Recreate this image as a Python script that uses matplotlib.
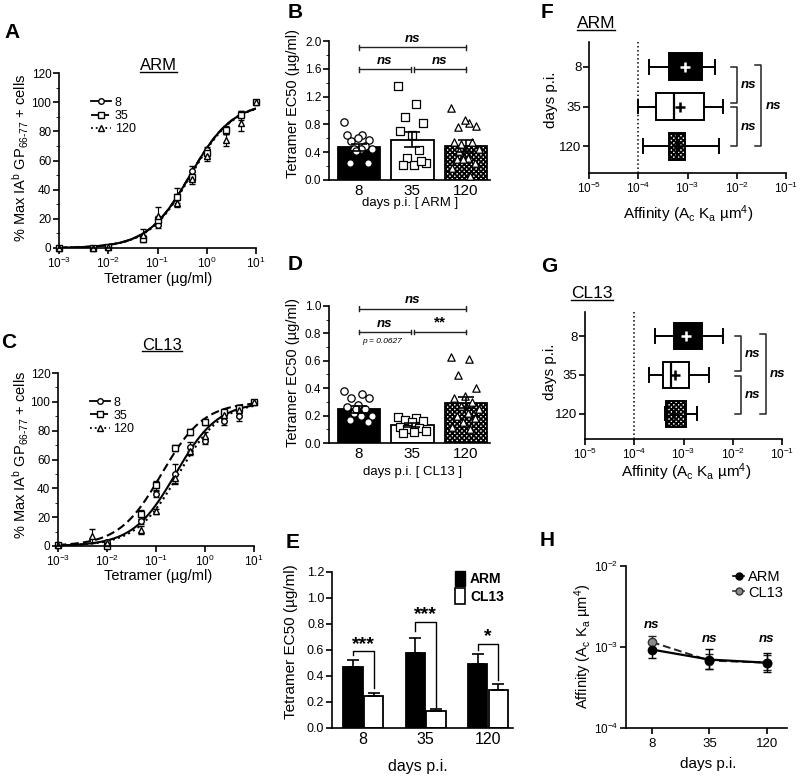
"""Tetramer binding / EC50 / 2D affinity panels (A-H)."""
import numpy as np
import matplotlib
matplotlib.use("Agg")
import matplotlib.pyplot as plt
from matplotlib.lines import Line2D
from matplotlib.patches import Patch
from matplotlib.ticker import MultipleLocator, NullLocator, FixedLocator

plt.rcParams['font.family'] = ['Liberation Sans', 'DejaVu Sans']
plt.rcParams['mathtext.fontset'] = 'custom'
plt.rcParams['mathtext.rm'] = 'Liberation Sans'
plt.rcParams['mathtext.it'] = 'Liberation Sans:italic'
plt.rcParams['mathtext.bf'] = 'Liberation Sans:bold'
plt.rcParams['hatch.linewidth'] = 1.3
plt.rcParams['axes.linewidth'] = 1.2
plt.rcParams['xtick.major.width'] = 1.2
plt.rcParams['ytick.major.width'] = 1.2
plt.rcParams['xtick.major.size'] = 4
plt.rcParams['ytick.major.size'] = 4
plt.rcParams['xtick.minor.size'] = 2
plt.rcParams['ytick.minor.size'] = 2
plt.rcParams['xtick.major.pad'] = 1.5
plt.rcParams['ytick.major.pad'] = 1.5

# ---------------- data ----------------
conc = [0.001, 0.005, 0.01, 0.05, 0.1, 0.25, 0.5, 1.0, 2.5, 5.0, 10.0]
days = ["8", "35", "120"]
nan = np.nan

# A: % max IAb GP66-77+ cells, ARM
arm8_pct = [0, 0, 1, 7, 16, 34, 53, 67, 80, 92, 100]
arm8_err = [0.5, 0.5, 1, 2, 2, 3, 3, 2, 2, 2, 0]
arm35_pct = [0, 0, 1, 6, 19, 35, 49, 65, 81, 91, 100]
arm35_err = [0.5, 0.5, 1, 2, 3, 6, 3, 3, 3, 3, 0]
arm120_pct = [0, 0, 1, 9, 22, 31, 47, 63, 74, 86, 100]
arm120_err = [0.5, 0.5, 1, 4, 6, 3, 3, 3, 4, 6, 0]
arm_fit_ec50 = [0.46, 0.46, 0.48]

# C: CL13
cl8_pct = [1, nan, 3, 17, 36, 50, 69, 73, 87, 90, 100]
cl8_err = [1, 0, 1, 2, 2, 7, 3, 2, 3, 3, 0]
cl35_pct = [1, nan, 0, 22, 42, 68, 79, 86, 93, 96, 100]
cl35_err = [1, 0, 1, 3, 3, 2, 2, 2, 1, 2, 0]
cl120_pct = [1, 7, 2, 11, 24, 47, 66, 76, 91, 94, 100]
cl120_err = [1, 5, 1, 3, 2, 3, 3, 3, 4, 3, 0]
cl_fit_ec50 = [0.25, 0.13, 0.29]

# B: EC50 ARM (ug/ml)
arm_ec50_mean = [0.47, 0.58, 0.49]
arm_ec50_sem = [0.05, 0.11, 0.08]
arm_ec50_d8 = [0.83, 0.65, 0.56, 0.58, 0.60, 0.65, 0.49, 0.45, 0.45, 0.45, 0.24, 0.24, 0.42]
arm_ec50_d35 = [1.35, 1.09, 0.91, 0.82, 0.65, 0.70, 0.43, 0.31, 0.25, 0.21, 0.21, 0.28]
arm_ec50_d120 = [1.03, 0.82, 0.76, 0.78, 0.86, 0.55, 0.55, 0.52, 0.45, 0.31,
                 0.30, 0.24, 0.30, 0.17, 0.06, 0.42]

# D: EC50 CL13
cl_ec50_mean = [0.245, 0.13, 0.295]
cl_ec50_sem = [0.025, 0.015, 0.04]
cl_ec50_d8 = [0.38, 0.36, 0.33, 0.33, 0.28, 0.26, 0.25, 0.22, 0.20, 0.20, 0.17, 0.15, 0.25]
cl_ec50_d35 = [0.19, 0.18, 0.17, 0.16, 0.15, 0.12, 0.11, 0.10, 0.09, 0.08, 0.07]
cl_ec50_d120 = [0.63, 0.61, 0.50, 0.40, 0.34, 0.33, 0.30, 0.27, 0.25, 0.22,
                0.20, 0.18, 0.15, 0.12, 0.10]

# E: significance
e_sig = ["***", "***", "*"]
e_sig_y = [0.59, 0.815, 0.65]
e_left_y = [0.565, 0.75, 0.60]
e_right_y = [0.31, 0.16, 0.37]

# F: 2D affinity ARM (box stats)
arm_lo = [1.66e-4, 1.0e-4, 1.26e-4]
arm_q1 = [4.27e-4, 2.29e-4, 4.17e-4]
arm_med = [9.0e-4, 5.37e-4, 6.0e-4]
arm_q3 = [2.0e-3, 2.14e-3, 8.7e-4]
arm_hi = [3.55e-3, 5.37e-3, 4.27e-3]
arm_mean = [8.9e-4, 7.08e-4, 6.3e-4]

# G: 2D affinity CL13
cl_lo = [2.63e-4, 2.04e-4, 4.2e-4]
cl_q1 = [6.3e-4, 3.8e-4, 4.4e-4]
cl_med = [1.1e-3, 5.6e-4, 4.6e-4]
cl_q3 = [2.34e-3, 1.32e-3, 1.12e-3]
cl_hi = [6.3e-3, 3.3e-3, 1.86e-3]
cl_mean = [1.15e-3, 6.8e-4, 6.3e-4]

# H: mean affinity with error
arm_aff = [9.3e-4, 7.0e-4, 6.4e-4]
arm_aff_lo = [7.4e-4, 5.4e-4, 4.9e-4]
arm_aff_hi = [1.2e-3, 9.5e-4, 8.5e-4]
cl_aff = [1.15e-3, 6.8e-4, 6.4e-4]
cl_aff_lo = [9.8e-4, 5.4e-4, 5.2e-4]
cl_aff_hi = [1.35e-3, 8.3e-4, 8.0e-4]
h_ns_y = [1.85e-3, 1.26e-3, 1.26e-3]

# ---------------- layout helpers ----------------
W, H = 800, 776
fig = plt.figure(figsize=(8, 7.76), dpi=100)


def px_axes(l, t, r, b):
    ax = fig.add_axes([l / W, 1 - b / H, (r - l) / W, (b - t) / H])
    ax.spines[['top', 'right']].set_visible(False)
    return ax


def ftext(x, y, s, **kw):
    return fig.text(x / W, 1 - y / H, s, **kw)


underlined = []


def title_u(x, y, s, size=12):
    underlined.append(ftext(x, y, s, ha='center', va='center', fontsize=size))


def spread(n, width=0.55):
    k = np.arange(n)
    return ((k * 0.618) % 1 - 0.5) * width


NS = dict(fontsize=9.5, fontweight='bold', fontstyle='italic')
AFF = "Affinity (A$_{\\mathregular{c}}$ K$_{\\mathregular{a}}$ \u00b5m$^{\\mathregular{4}}$)"
YPCT = "% Max IA$^{\\mathregular{b}}$ GP$_{\\text{66-77}}$ + cells"


# ---------------- A / C: binding curves ----------------
def binding_panel(ax, series, fits):
    markers = ['o', 's', '^']
    styles = ['-', (0, (4, 2)), ':']
    xs = np.logspace(-3, 1, 300)
    for (pct, err), ec50, m, ls in zip(series, fits, markers, styles):
        ax.plot(xs, 100 * xs / (ec50 + xs), color='black', ls=ls, lw=1.5)
        ax.errorbar(conc, pct, yerr=err, fmt=m, ms=4, mfc='white', mec='black',
                    mew=1, ecolor='black', elinewidth=0.8, capsize=2, clip_on=False)
    ax.set_xscale('log')
    ax.set_xlim(1e-3, 10)
    ax.set_ylim(0, 120)
    ax.yaxis.set_major_locator(MultipleLocator(20))
    ax.yaxis.set_minor_locator(MultipleLocator(10))
    ax.xaxis.set_minor_locator(NullLocator())
    ax.tick_params(labelsize=8.5)
    handles = [Line2D([], [], color='black', ls=ls, lw=1.3, marker=m, ms=4, mfc='white')
               for m, ls in zip(markers, styles)]
    ax.legend(handles, days, loc='upper left', bbox_to_anchor=(0.13, 0.9), frameon=False,
              fontsize=9, handlelength=1.6, handletextpad=0.3, labelspacing=0.1,
              borderpad=0)


axA = px_axes(59, 73, 256, 248)
binding_panel(axA, [(arm8_pct, arm8_err), (arm35_pct, arm35_err), (arm120_pct, arm120_err)],
              arm_fit_ec50)
axC = px_axes(58, 373, 254, 546)
binding_panel(axC, [(cl8_pct, cl8_err), (cl35_pct, cl35_err), (cl120_pct, cl120_err)],
              cl_fit_ec50)
title_u(158, 65, "ARM")
title_u(162, 345, "CL13")
ftext(21, 158, YPCT, rotation=90, ha='center', va='center', fontsize=10.5)
ftext(21, 455, YPCT, rotation=90, ha='center', va='center', fontsize=10.5)
ftext(158, 279, "Tetramer (\u00b5g/ml)", ha='center', va='center', fontsize=10.5)
ftext(158, 576, "Tetramer (\u00b5g/ml)", ha='center', va='center', fontsize=10.5)


# ---------------- B / D: EC50 scatter bars ----------------
def hbar(ax, x0, x1, y, label, dy):
    ax.plot([x0, x1], [y, y], color='#222', lw=1)
    for xx in (x0, x1):
        ax.plot([xx, xx], [y - dy, y + dy], color='#222', lw=1)
    size = 11 if label.startswith('*') else 9.5
    style = 'normal' if label.startswith('*') else 'italic'
    ax.text((x0 + x1) / 2, y + dy, label, ha='center', va='bottom', fontsize=size,
            fontweight='bold', fontstyle=style)


def ec50_panel(ax, means, sems, groups, ymax):
    x = np.arange(3)
    bars = ax.bar(x, means, width=0.8, color=['black', 'white', 'white'],
                  edgecolor='black', linewidth=1.3, zorder=2)
    bars[2].set_hatch('xxxxxxx')
    for i, (pts, m) in enumerate(zip(groups, ['o', 's', '^'])):
        ax.scatter(i + spread(len(pts)), pts, marker=m, s=28, facecolor='white',
                   edgecolor='black', linewidth=0.9, zorder=3)
    ax.errorbar(x, means, yerr=sems, fmt='none', ecolor='black', elinewidth=1.2,
                capsize=6, capthick=1.2, zorder=4)
    ax.set_xlim(-0.56, 2.45)
    ax.set_ylim(0, ymax)
    ax.set_xticks(x, days)
    ax.tick_params(axis='x', labelsize=11, length=0, pad=3)
    ax.tick_params(axis='y', labelsize=8.5)


axB = px_axes(329, 41, 490, 180)
ec50_panel(axB, arm_ec50_mean, arm_ec50_sem, [arm_ec50_d8, arm_ec50_d35, arm_ec50_d120], 2.0)
axB.yaxis.set_major_locator(MultipleLocator(0.4))
axB.yaxis.set_minor_locator(MultipleLocator(0.2))
axB.yaxis.set_major_formatter(lambda v, p: f"{v:.1f}")
hbar(axB, 0, 2, 1.91, "ns", 0.035)
hbar(axB, 0, 0.97, 1.59, "ns", 0.035)
hbar(axB, 1.03, 2, 1.59, "ns", 0.035)

axD = px_axes(329, 306, 490, 443)
ec50_panel(axD, cl_ec50_mean, cl_ec50_sem, [cl_ec50_d8, cl_ec50_d35, cl_ec50_d120], 1.0)
axD.yaxis.set_major_locator(MultipleLocator(0.2))
axD.yaxis.set_minor_locator(MultipleLocator(0.1))
axD.yaxis.set_major_formatter(lambda v, p: f"{v:.1f}")
hbar(axD, 0, 2, 0.98, "ns", 0.017)
hbar(axD, 0, 0.97, 0.81, "ns", 0.017)
hbar(axD, 1.03, 2, 0.81, "**", 0.017)
axD.text(0.43, 0.74, "p = 0.0627", ha='center', va='center', fontsize=6, fontstyle='italic')

ftext(293, 103, "Tetramer EC50 (\u00b5g/ml)", rotation=90, ha='center', va='center', fontsize=10.5)
ftext(293, 372, "Tetramer EC50 (\u00b5g/ml)", rotation=90, ha='center', va='center', fontsize=10.5)
ftext(410, 203, "days p.i. [ ARM ]", ha='center', va='center', fontsize=9.5)
ftext(413, 472, "days p.i. [ CL13 ]", ha='center', va='center', fontsize=9.5)

# ---------------- E: grouped bars ----------------
axE = px_axes(332, 572, 513, 728)
xe = np.arange(3)
off = 0.165
wd = 0.31
axE.bar(xe - off, arm_ec50_mean, width=wd, color='black', edgecolor='black', lw=1.3)
axE.bar(xe + off, cl_ec50_mean, width=wd, color='white', edgecolor='black', lw=1.3)
axE.errorbar(xe - off, arm_ec50_mean, yerr=[[0] * 3, arm_ec50_sem], fmt='none',
             ecolor='black', elinewidth=1.2, capsize=4, capthick=1.2)
axE.errorbar(xe + off, cl_ec50_mean, yerr=[[0] * 3, cl_ec50_sem], fmt='none',
             ecolor='black', elinewidth=1.2, capsize=4, capthick=1.2)
for i in range(3):
    xl, xr = i - off, i + off
    axE.plot([xl, xl, xr, xr], [e_left_y[i], e_sig_y[i], e_sig_y[i], e_right_y[i]],
             color='black', lw=1)
    axE.text(i, e_sig_y[i] - 0.01, e_sig[i], ha='center', va='bottom', fontsize=14,
             fontweight='bold')
axE.set_xlim(-0.5, 2.4)
axE.set_ylim(0, 1.2)
axE.yaxis.set_major_locator(MultipleLocator(0.2))
axE.yaxis.set_major_formatter(lambda v, p: f"{v:.1f}")
axE.set_xticks(xe, days)
axE.tick_params(axis='x', labelsize=11.5, length=0, pad=3)
axE.tick_params(axis='y', labelsize=9)
axE.legend([Patch(facecolor='black', edgecolor='black'),
            Patch(facecolor='white', edgecolor='black', lw=1.2)], ["ARM", "CL13"],
           loc='upper left', bbox_to_anchor=(0.64, 1.05), frameon=False,
           prop=dict(size=10, weight='bold'), handlelength=0.7, handleheight=1.3,
           handletextpad=0.4, labelspacing=0.15, borderpad=0)
ftext(291, 642, "Tetramer EC50 (\u00b5g/ml)", rotation=90, ha='center', va='center', fontsize=11)
ftext(418, 766, "days p.i.", ha='center', va='center', fontsize=11.5)


# ---------------- F / G: affinity box plots ----------------
def vbracket(ax, x, y0, y1, tick=0.12):
    xl = x * 10 ** (-tick)
    ax.plot([xl, x, x, xl], [y0, y0, y1, y1], color='#222', lw=1.1, clip_on=False)
    ax.text(x * 10 ** 0.08, (y0 + y1) / 2, "ns", ha='left', va='center', clip_on=False, **NS)


def affinity_panel(ax, lo, q1, med, q3, hi, mean, xin, xout, ylim):
    stats = [dict(whislo=lo[i], q1=q1[i], med=med[i], q3=q3[i], whishi=hi[i], mean=mean[i],
                  fliers=[]) for i in range(3)]
    bp = ax.bxp(stats, positions=[0, 1, 2], widths=0.68, orientation='horizontal',
                patch_artist=True, showmeans=True, manage_ticks=False,
                boxprops=dict(lw=1.4, edgecolor='black'),
                whiskerprops=dict(lw=1.4), capprops=dict(lw=1.4),
                medianprops=dict(color='black', lw=1.6),
                meanprops=dict(marker='+', ms=7, mew=1.8, mec='black'))
    bp['boxes'][0].set_facecolor('black')
    bp['boxes'][1].set_facecolor('white')
    bp['boxes'][2].set_facecolor('white')
    bp['boxes'][2].set_hatch('xxxxxxx')
    bp['means'][0].set_markeredgecolor('white')
    ax.axvline(1e-4, color='black', ls=':', lw=1.1)
    ax.set_xscale('log')
    ax.set_xlim(1e-5, 1e-1)
    ax.xaxis.set_major_locator(FixedLocator([1e-5, 1e-4, 1e-3, 1e-2, 1e-1]))
    ax.xaxis.set_minor_locator(NullLocator())
    ax.set_ylim(*ylim)
    ax.set_yticks([0, 1, 2], days)
    ax.tick_params(axis='y', labelsize=9.5)
    ax.tick_params(axis='x', labelsize=8.5)
    vbracket(ax, xin, 0.0, 0.9)
    vbracket(ax, xin, 1.02, 2.0)
    vbracket(ax, xout, -0.05, 2.0)


axF = px_axes(589, 42, 786, 173)
affinity_panel(axF, arm_lo, arm_q1, arm_med, arm_q3, arm_hi, arm_mean,
               1e-2, 10 ** -1.5, (2.68, -0.63))
axG = px_axes(585, 312, 782, 439)
affinity_panel(axG, cl_lo, cl_q1, cl_med, cl_q3, cl_hi, cl_mean,
               10 ** -1.84, 10 ** -1.33, (2.65, -0.62))
title_u(596, 23, "ARM", size=12.5)
title_u(592, 294, "CL13", size=12.5)
ftext(551, 100, "days p.i.", rotation=90, ha='center', va='center', fontsize=11)
ftext(550, 372, "days p.i.", rotation=90, ha='center', va='center', fontsize=11)
ftext(688, 214, AFF, ha='center', va='center', fontsize=11)
ftext(686, 472, AFF, ha='center', va='center', fontsize=11)

# ---------------- H: affinity over time ----------------
axH = px_axes(626, 566, 787, 728)
xh = np.arange(3)
cl_a = np.array(cl_aff)
arm_a = np.array(arm_aff)
axH.errorbar(xh, cl_a, yerr=[cl_a - np.array(cl_aff_lo), np.array(cl_aff_hi) - cl_a],
             fmt='o', ls=(0, (4, 2)), color='#222', mfc='#8a8a8a', mec='#333', ms=6,
             lw=1.4, capsize=3, elinewidth=1)
axH.errorbar(xh, arm_a, yerr=[arm_a - np.array(arm_aff_lo), np.array(arm_aff_hi) - arm_a],
             fmt='o', ls='-', color='black', ms=6, lw=1.6, capsize=3, elinewidth=1)
for i in range(3):
    axH.text(i, h_ns_y[i], "ns", ha='center', va='center', **NS)
axH.set_yscale('log')
axH.set_ylim(1e-4, 1e-2)
axH.yaxis.set_major_locator(FixedLocator([1e-4, 1e-3, 1e-2]))
axH.yaxis.set_minor_locator(NullLocator())
axH.set_xlim(-0.45, 2.35)
axH.set_xticks(xh, days)
axH.tick_params(axis='x', labelsize=9.5, pad=3)
axH.tick_params(axis='y', labelsize=8.5)
axH.legend([Line2D([], [], color='black', marker='o', ms=5, lw=1.2),
            Line2D([], [], color='#333', marker='o', mfc='#8a8a8a', ms=5, lw=1.2)],
           ["ARM", "CL13"], loc='upper right', bbox_to_anchor=(1.02, 1.02), frameon=False,
           fontsize=10.5, handlelength=0.7, handletextpad=0.3, labelspacing=0.1,
           borderpad=0)
ftext(583, 646, AFF, rotation=90, ha='center', va='center', fontsize=10.5)
ftext(708, 764, "days p.i.", ha='center', va='center', fontsize=11)

# ---------------- panel letters ----------------
for s, x, y in [("A", 12, 33), ("B", 295, 12), ("C", 9, 342), ("D", 295, 265),
                ("E", 293, 542), ("F", 547, 12), ("G", 549, 267), ("H", 547, 541)]:
    ftext(x, y, s, ha='center', va='center', fontsize=15, fontweight='bold')

# underline the strain titles
renderer = fig.canvas.get_renderer()
for t in underlined:
    bb = t.get_window_extent(renderer)
    yy = (bb.y0 + 1) / fig.bbox.height
    fig.add_artist(Line2D([bb.x0 / fig.bbox.width, bb.x1 / fig.bbox.width], [yy, yy],
                          color='black', lw=1))

fig.savefig("out.png", dpi=100)
